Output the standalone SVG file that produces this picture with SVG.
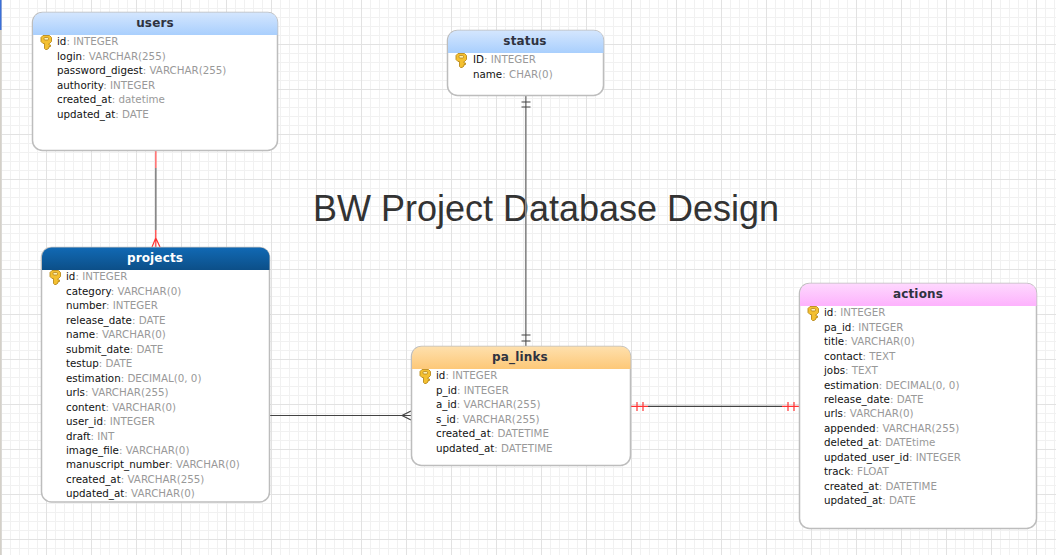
<svg xmlns="http://www.w3.org/2000/svg" width="1056" height="555" viewBox="0 0 1056 555">
<defs>
<pattern id="gridMinor" width="9" height="9" patternUnits="userSpaceOnUse" x="1" y="-1"><path d="M0.5 0V9M0 0.5H9" fill="none" stroke="#f1f1f1"/></pattern>
<pattern id="gridMajor" width="45" height="45" patternUnits="userSpaceOnUse" x="1" y="-1"><path d="M0.5 0V45M0 0.5H45" fill="none" stroke="#e2e2e2"/></pattern>
<linearGradient id="hBlue" x1="0" y1="0" x2="0" y2="1"><stop offset="0" stop-color="#d4e6fe"/><stop offset="1" stop-color="#a9cffd"/></linearGradient>
<linearGradient id="hDark" x1="0" y1="0" x2="0" y2="1"><stop offset="0" stop-color="#1169b4"/><stop offset="1" stop-color="#0c4f88"/></linearGradient>
<linearGradient id="hOrange" x1="0" y1="0" x2="0" y2="1"><stop offset="0" stop-color="#fee0ad"/><stop offset="1" stop-color="#fdc878"/></linearGradient>
<linearGradient id="hPink" x1="0" y1="0" x2="0" y2="1"><stop offset="0" stop-color="#fed8fe"/><stop offset="1" stop-color="#fdb2fd"/></linearGradient>
<g id="key"><path d="M3 0.500H9.500L11.500 2.500V6.500L9.500 8.500H9V10H10.500V11.500H9V13L7 14.500H5.500L4.500 13.500V8.500H3L1 6.500V2.500Z" fill="#f4c030" stroke="#b98a1c" stroke-width="0.9"/><rect x="4" y="2.500" width="4.500" height="2.500" rx="1" fill="#fff2b0" stroke="#a9781a" stroke-width="0.7"/></g>
</defs>
<style>
.box{fill:#fff;stroke:#bdbdbd;stroke-width:1.500}
.title{font:bold 12px "DejaVu Sans",sans-serif;fill:#2f3340;text-anchor:middle;letter-spacing:.15px}
.row{font:10.300px "DejaVu Sans",sans-serif;fill:#111}
.row tspan{fill:#999}
.c{fill:none;stroke:#555;stroke-width:1.200}
.g{fill:none;stroke:#888;stroke-width:1.700}
.r{fill:none;stroke:#f33;stroke-width:1.200}
</style>
<rect width="1056" height="555" fill="#fff"/>
<rect width="1056" height="555" fill="url(#gridMinor)"/>
<rect width="1056" height="555" fill="url(#gridMajor)"/>
<rect x="0" y="0" width="1.500" height="555" fill="#d4d0c8"/>
<rect x="0" y="0" width="1.500" height="30" fill="#3a6fd8"/>
<text x="546" y="221" font-family="Liberation Sans, sans-serif" font-size="36" fill="#333" text-anchor="middle">BW Project Database Design</text>
<g id="connectors">
<path class="g" d="M155.800 168V230"/>
<path class="r" style="stroke:#f77;stroke-width:1.700" d="M155.800 150V168"/>
<path class="r" d="M155.800 230V247M155.800 238L152 247M155.800 238L160 247"/>
<path class="g" d="M525.800 96V346"/>
<path class="c" style="stroke:#444" d="M521.500 102H530.500M521.500 107H530.500M521.500 335H530.500M521.500 341H530.500"/>
<path class="c" style="stroke:#444" d="M269 415.500H411M411 411L402 415.500L411 420"/>
<path class="c" style="stroke:#444" d="M648 406.300H782"/>
<path class="r" d="M631 406.300H648M637 402V411M643 402V411M782 406.300H799M788 402V411M794 402V411"/>
</g>
<g id="users">
<rect class="box" x="32.500" y="12.500" width="245" height="138" rx="10"/>
<path d="M33 35V22a9.500 9.500 0 0 1 9.500-9.500H268a9.500 9.500 0 0 1 9.500 9.500V35Z" fill="url(#hBlue)"/>
<text class="title" x="155" y="27">users</text>
<use href="#key" x="40" y="35"/>
<text class="row" x="57" y="45">id<tspan>: INTEGER</tspan></text>
<text class="row" x="57" y="60">login<tspan>: VARCHAR(255)</tspan></text>
<text class="row" x="57" y="74">password_digest<tspan>: VARCHAR(255)</tspan></text>
<text class="row" x="57" y="89">authority<tspan>: INTEGER</tspan></text>
<text class="row" x="57" y="103">created_at<tspan>: datetime</tspan></text>
<text class="row" x="57" y="118">updated_at<tspan>: DATE</tspan></text>
</g>
<g id="status">
<rect class="box" x="447.500" y="30.500" width="156" height="65" rx="10"/>
<path d="M448 53V40a9.500 9.500 0 0 1 9.500-9.500H594a9.500 9.500 0 0 1 9.500 9.500V53Z" fill="url(#hBlue)"/>
<text class="title" x="525" y="45">status</text>
<use href="#key" x="455" y="53"/>
<text class="row" x="473" y="63">ID<tspan>: INTEGER</tspan></text>
<text class="row" x="473" y="78">name<tspan>: CHAR(0)</tspan></text>
</g>
<g id="projects">
<rect class="box" x="41.500" y="247.500" width="228" height="254.500" rx="10"/>
<path d="M42 270V257a9.500 9.500 0 0 1 9.500-9.500H260a9.500 9.500 0 0 1 9.500 9.500V270Z" fill="url(#hDark)"/>
<text class="title" style="fill:#fff" x="155" y="262">projects</text>
<use href="#key" x="49" y="270"/>
<text class="row" x="66" y="280">id<tspan>: INTEGER</tspan></text>
<text class="row" x="66" y="295">category<tspan>: VARCHAR(0)</tspan></text>
<text class="row" x="66" y="309">number<tspan>: INTEGER</tspan></text>
<text class="row" x="66" y="324">release_date<tspan>: DATE</tspan></text>
<text class="row" x="66" y="338">name<tspan>: VARCHAR(0)</tspan></text>
<text class="row" x="66" y="353">submit_date<tspan>: DATE</tspan></text>
<text class="row" x="66" y="367">testup<tspan>: DATE</tspan></text>
<text class="row" x="66" y="382">estimation<tspan>: DECIMAL(0, 0)</tspan></text>
<text class="row" x="66" y="396">urls<tspan>: VARCHAR(255)</tspan></text>
<text class="row" x="66" y="411">content<tspan>: VARCHAR(0)</tspan></text>
<text class="row" x="66" y="425">user_id<tspan>: INTEGER</tspan></text>
<text class="row" x="66" y="440">draft<tspan>: INT</tspan></text>
<text class="row" x="66" y="454">image_file<tspan>: VARCHAR(0)</tspan></text>
<text class="row" x="66" y="468">manuscript_number<tspan>: VARCHAR(0)</tspan></text>
<text class="row" x="66" y="483">created_at<tspan>: VARCHAR(255)</tspan></text>
<text class="row" x="66" y="497">updated_at<tspan>: VARCHAR(0)</tspan></text>
</g>
<g id="pa_links">
<rect class="box" x="411.500" y="346.500" width="219" height="119" rx="10"/>
<path d="M412 369V356a9.500 9.500 0 0 1 9.500-9.500H621a9.500 9.500 0 0 1 9.500 9.500V369Z" fill="url(#hOrange)"/>
<text class="title" x="520" y="361">pa_links</text>
<use href="#key" x="419" y="369"/>
<text class="row" x="436" y="379">id<tspan>: INTEGER</tspan></text>
<text class="row" x="436" y="394">p_id<tspan>: INTEGER</tspan></text>
<text class="row" x="436" y="408">a_id<tspan>: VARCHAR(255)</tspan></text>
<text class="row" x="436" y="423">s_id<tspan>: VARCHAR(255)</tspan></text>
<text class="row" x="436" y="437">created_at<tspan>: DATETIME</tspan></text>
<text class="row" x="436" y="452">updated_at<tspan>: DATETIME</tspan></text>
</g>
<g id="actions">
<rect class="box" x="799.500" y="283.500" width="237" height="245" rx="10"/>
<path d="M800 306V293a9.500 9.500 0 0 1 9.500-9.500H1027a9.500 9.500 0 0 1 9.500 9.500V306Z" fill="url(#hPink)"/>
<text class="title" x="918" y="298">actions</text>
<use href="#key" x="807" y="306"/>
<text class="row" x="824" y="316">id<tspan>: INTEGER</tspan></text>
<text class="row" x="824" y="331">pa_id<tspan>: INTEGER</tspan></text>
<text class="row" x="824" y="345">title<tspan>: VARCHAR(0)</tspan></text>
<text class="row" x="824" y="360">contact<tspan>: TEXT</tspan></text>
<text class="row" x="824" y="374">jobs<tspan>: TEXT</tspan></text>
<text class="row" x="824" y="389">estimation<tspan>: DECIMAL(0, 0)</tspan></text>
<text class="row" x="824" y="403">release_date<tspan>: DATE</tspan></text>
<text class="row" x="824" y="417">urls<tspan>: VARCHAR(0)</tspan></text>
<text class="row" x="824" y="432">appended<tspan>: VARCHAR(255)</tspan></text>
<text class="row" x="824" y="446">deleted_at<tspan>: DATEtime</tspan></text>
<text class="row" x="824" y="461">updated_user_id<tspan>: INTEGER</tspan></text>
<text class="row" x="824" y="475">track<tspan>: FLOAT</tspan></text>
<text class="row" x="824" y="490">created_at<tspan>: DATETIME</tspan></text>
<text class="row" x="824" y="504">updated_at<tspan>: DATE</tspan></text>
</g>
</svg>
